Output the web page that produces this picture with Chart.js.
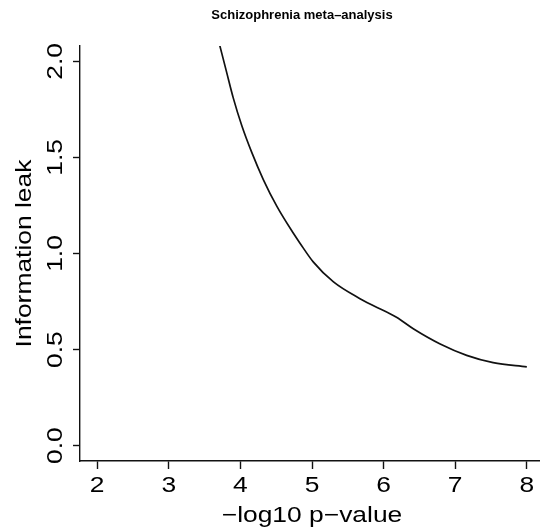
<!DOCTYPE html>
<html>
<head>
<meta charset="utf-8">
<script src="https://cdn.jsdelivr.net/npm/chart.js@4"></script>
<style>
  html, body { margin: 0; padding: 0; background: #fff; overflow: hidden; }
  #wrap { width: 545px; height: 531px; }
</style>
</head>
<body>
<div id="wrap"><canvas id="c" width="545" height="531"></canvas></div>
<script>
// ---- data ----
const chartTitle = "Schizophrenia meta–analysis";
const xTitle = "−log10 p−value";
const yTitle = "Information leak";
const xTicks = [2, 3, 4, 5, 6, 7, 8];
const xTickLabels = ["2", "3", "4", "5", "6", "7", "8"];
const yTicks = [0, 0.5, 1, 1.5, 2];
const yTickLabels = ["0.0", "0.5", "1.0", "1.5", "2.0"];
const pValueX = [3.70, 3.81, 3.90, 4.02, 4.16, 4.32, 4.51, 4.74, 4.83, 5.02, 5.30, 5.67, 5.86, 6.18, 6.42, 6.79, 7.16, 7.53, 8.00];
const leakY   = [2.10, 1.94, 1.81, 1.665, 1.525, 1.385, 1.245, 1.105, 1.055, 0.955, 0.852, 0.765, 0.728, 0.668, 0.607, 0.529, 0.470, 0.432, 0.410];

const FONT = '"Liberation Sans", Arial, Helvetica, sans-serif';
const STRETCH = 1.2;

const textPlugin = {
  id: 'rtext',
  afterDraw(chart) {
    const ctx = chart.ctx;
    const xs = chart.scales.x, ys = chart.scales.y;
    ctx.save();
    ctx.fillStyle = '#000';
    // main title
    ctx.font = 'bold 13px ' + FONT;
    ctx.textAlign = 'center';
    ctx.textBaseline = 'alphabetic';
    ctx.fillText(chartTitle, 302, 18.5);

    ctx.font = '22px ' + FONT;
    // x tick labels
    xTicks.forEach((v, i) => {
      const px = xs.getPixelForValue(v);
      ctx.save();
      ctx.translate(px, 491.5);
      ctx.scale(STRETCH, 1);
      ctx.fillText(xTickLabels[i], 0, 0);
      ctx.restore();
    });
    // y tick labels (rotated)
    yTicks.forEach((v, i) => {
      const py = ys.getPixelForValue(v);
      ctx.save();
      ctx.translate(62, py);
      ctx.rotate(-Math.PI / 2);
      ctx.scale(STRETCH, 1);
      ctx.fillText(yTickLabels[i], 0, 0);
      ctx.restore();
    });
    // x axis title
    ctx.save();
    ctx.translate((chart.chartArea.left + chart.chartArea.right) / 2, 522);
    ctx.scale(STRETCH, 1);
    ctx.fillText(xTitle, 0, 0);
    ctx.restore();
    // y axis title
    ctx.save();
    ctx.translate(31, (chart.chartArea.top + chart.chartArea.bottom) / 2);
    ctx.rotate(-Math.PI / 2);
    ctx.scale(STRETCH, 1);
    ctx.fillText(yTitle, 0, 0);
    ctx.restore();
    ctx.restore();
  }
};

const axisCommon = {
  type: 'linear',
  ticks: { display: false },
  grid: {
    display: true,
    drawOnChartArea: false,
    drawTicks: true,
    tickColor: '#111',
    tickWidth: 1.4
  },
  border: { display: true, color: '#111', width: 1.4 }
};

new Chart(document.getElementById('c'), {
  type: 'scatter',
  data: {
    datasets: [{
      data: pValueX.map((x, i) => ({ x: x, y: leakY[i] })),
      showLine: true,
      borderColor: '#111',
      borderWidth: 1.7,
      pointRadius: 0,
      pointHoverRadius: 0,
      cubicInterpolationMode: 'monotone',
      fill: false
    }]
  },
  options: {
    responsive: false,
    animation: false,
    devicePixelRatio: 1,
    events: [],
    layout: { padding: { top: 46, right: 1, left: 0, bottom: 0 } },
    plugins: { legend: { display: false }, title: { display: false }, tooltip: { enabled: false } },
    scales: {
      x: Object.assign({}, axisCommon, {
        min: 1.76, max: 8.24,
        grid: Object.assign({}, axisCommon.grid, { tickLength: 8 }),
        afterBuildTicks: s => { s.ticks = xTicks.map(v => ({ value: v })); },
        afterFit: s => { s.height = 70; }
      }),
      y: Object.assign({}, axisCommon, {
        min: -0.08, max: 2.08,
        grid: Object.assign({}, axisCommon.grid, { tickLength: 7 }),
        afterBuildTicks: s => { s.ticks = yTicks.map(v => ({ value: v })); },
        afterFit: s => { s.width = 80; }
      })
    }
  },
  plugins: [textPlugin]
});
</script>
</body>
</html>
